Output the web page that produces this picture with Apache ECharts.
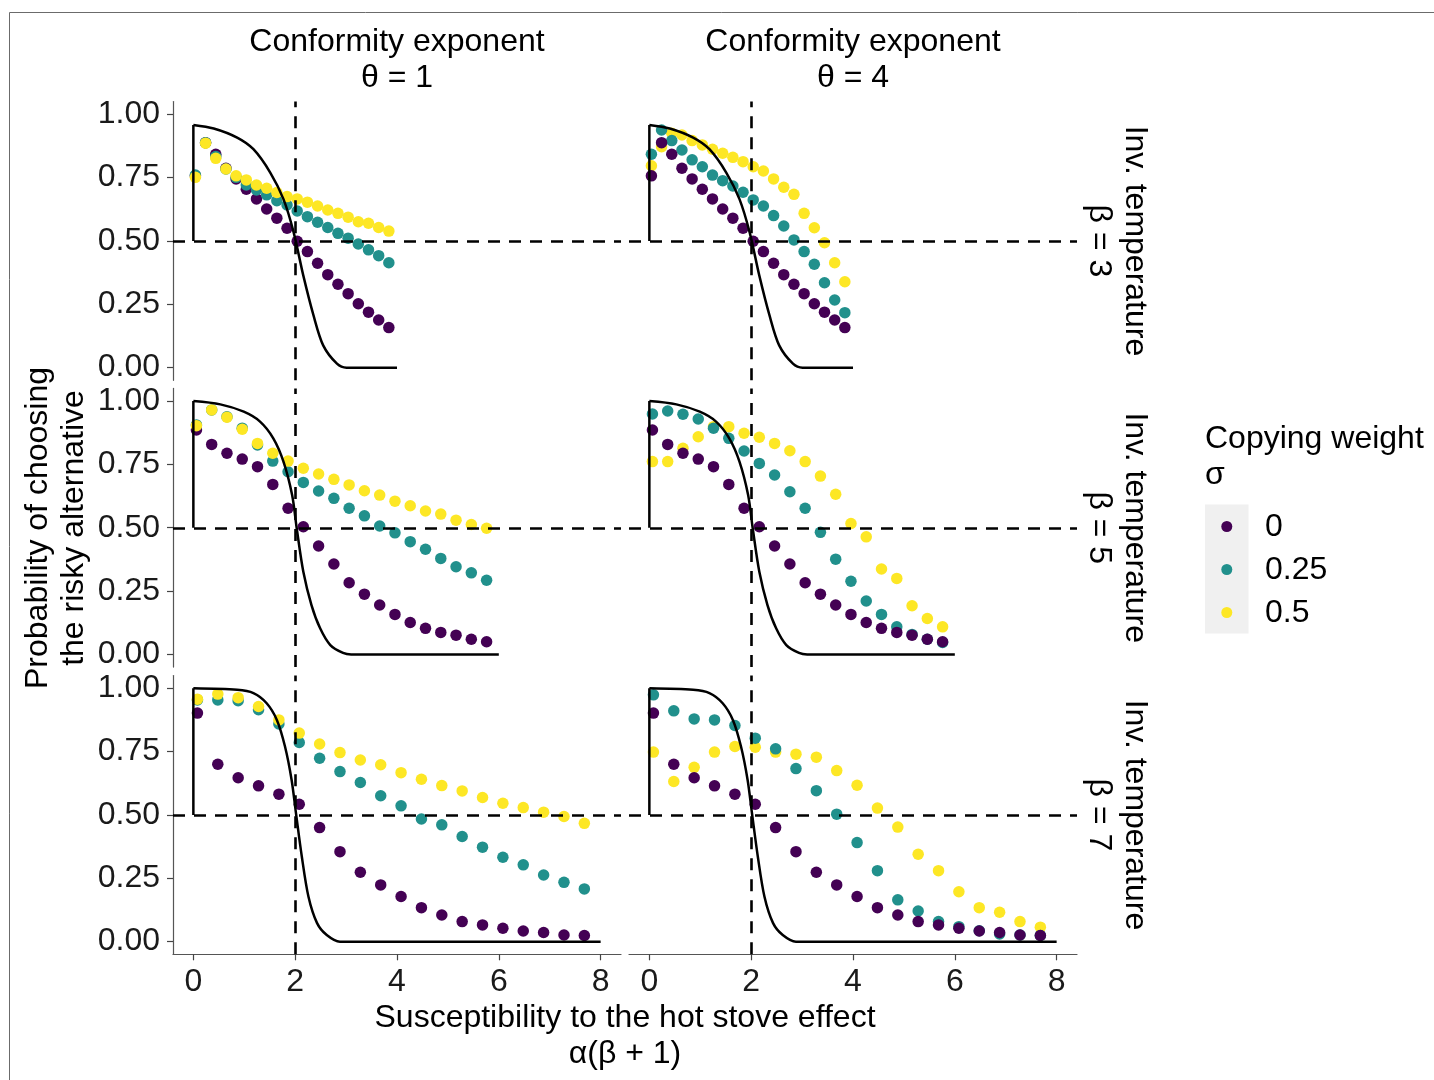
<!DOCTYPE html>
<html><head><meta charset="utf-8">
<script src="https://cdn.jsdelivr.net/npm/echarts@6/dist/echarts.min.js"></script>
<style>html,body{margin:0;padding:0;background:#fff}#c{width:1434px;height:1080px}</style>
</head><body><div id="c"></div>
<script>
// ---------- data ----------
const betas = [3, 5, 7];
const thetas = [1, 4];
const sigmaLabels = ['0', '0.25', '0.5'];
const colors = ['#440154', '#21908C', '#FDE725'];
const xTicks = [0, 2, 4, 6, 8];
const yTicks = [0, 0.25, 0.5, 0.75, 1];
const refY = 0.5;
const refX = 2;

const xs3 = [0.04,0.24,0.44,0.64,0.84,1.04,1.24,1.44,1.64,1.84,2.04,2.24,2.44,2.64,2.84,3.04,3.24,3.44,3.64,3.84];
const xs5 = [0.06,0.36,0.66,0.96,1.26,1.56,1.86,2.16,2.46,2.76,3.06,3.36,3.66,3.96,4.26,4.56,4.86,5.16,5.46,5.76];
const xs7 = [0.08,0.48,0.88,1.28,1.68,2.08,2.48,2.88,3.28,3.68,4.08,4.48,4.88,5.28,5.68,6.08,6.48,6.88,7.28,7.68];

// sigma = 0 (no copying), same for both theta
const p_b3 = [0.757,0.888,0.842,0.787,0.745,0.704,0.666,0.626,0.590,0.550,0.499,0.458,0.412,0.367,0.329,0.292,0.252,0.219,0.188,0.158];
const p_b5 = [0.886,0.829,0.794,0.771,0.741,0.671,0.577,0.504,0.428,0.357,0.283,0.238,0.195,0.158,0.126,0.103,0.087,0.076,0.060,0.050];
const p_b7 = [0.902,0.700,0.647,0.615,0.582,0.542,0.450,0.355,0.274,0.224,0.178,0.134,0.105,0.079,0.066,0.053,0.042,0.036,0.026,0.024];

// sigma = 0.25
const t_b3_th1 = [0.760,0.888,0.833,0.784,0.751,0.721,0.701,0.682,0.659,0.642,0.618,0.596,0.574,0.553,0.530,0.511,0.488,0.465,0.442,0.414];
const t_b3_th4 = [0.842,0.938,0.896,0.859,0.820,0.793,0.760,0.738,0.717,0.692,0.662,0.638,0.600,0.559,0.504,0.458,0.408,0.335,0.267,0.217];
const t_b5_th1 = [0.906,0.965,0.938,0.893,0.827,0.763,0.721,0.679,0.645,0.616,0.577,0.547,0.507,0.480,0.445,0.415,0.379,0.346,0.322,0.293];
const t_b5_th4 = [0.949,0.961,0.948,0.929,0.893,0.853,0.803,0.754,0.708,0.642,0.577,0.482,0.376,0.289,0.211,0.158,0.109,0.079,0.060,0.047];
const t_b7_th1 = [0.954,0.954,0.951,0.915,0.859,0.786,0.724,0.671,0.628,0.576,0.536,0.484,0.461,0.415,0.373,0.333,0.303,0.263,0.234,0.208];
const t_b7_th4 = [0.974,0.911,0.879,0.875,0.853,0.803,0.761,0.683,0.596,0.503,0.391,0.280,0.165,0.121,0.079,0.059,0.043,0.030,0.026,0.024];

// sigma = 0.5
const y_b3_th1 = [0.751,0.886,0.826,0.784,0.757,0.741,0.721,0.708,0.691,0.675,0.666,0.653,0.638,0.622,0.609,0.594,0.576,0.570,0.553,0.539];
const y_b3_th4 = [0.797,0.872,0.925,0.918,0.896,0.879,0.862,0.846,0.830,0.813,0.793,0.776,0.745,0.712,0.684,0.609,0.552,0.493,0.414,0.339];
const y_b5_th1 = [0.903,0.965,0.936,0.889,0.833,0.794,0.763,0.735,0.712,0.691,0.669,0.646,0.629,0.605,0.587,0.566,0.554,0.530,0.513,0.498];
const y_b5_th4 = [0.761,0.761,0.814,0.859,0.899,0.899,0.873,0.857,0.833,0.804,0.761,0.704,0.632,0.517,0.464,0.337,0.300,0.192,0.142,0.109];
const y_b7_th1 = [0.957,0.977,0.963,0.928,0.875,0.823,0.780,0.746,0.717,0.698,0.667,0.641,0.616,0.595,0.569,0.546,0.529,0.511,0.494,0.467];
const y_b7_th4 = [0.748,0.632,0.688,0.748,0.770,0.767,0.748,0.740,0.728,0.675,0.617,0.527,0.452,0.345,0.280,0.197,0.134,0.116,0.079,0.057];

// theoretical (no-social-learning) curve
const curveX_b3 = [0, 0.40, 0.86, 1.18, 1.51, 1.77, 1.97, 2.16, 2.36, 2.55, 2.82, 3.01, 4.0];
const curveY_b3 = [0.958, 0.944, 0.908, 0.862, 0.770, 0.665, 0.534, 0.363, 0.206, 0.088, 0.016, 0.0, 0.0];
const curveX_b5 = [0, 0.53, 0.99, 1.31, 1.57, 1.77, 1.94, 2.03, 2.16, 2.32, 2.49, 2.69, 2.94, 3.1, 6.0];
const curveY_b5 = [1.0, 0.987, 0.958, 0.919, 0.853, 0.761, 0.629, 0.498, 0.326, 0.195, 0.103, 0.037, 0.006, 0.0, 0.0];
const curveX_b7 = [0, 0.86, 1.18, 1.44, 1.64, 1.80, 1.93, 2.02, 2.13, 2.26, 2.43, 2.62, 2.88, 8.0];
const curveY_b7 = [1.0, 0.994, 0.981, 0.941, 0.875, 0.770, 0.638, 0.5, 0.336, 0.178, 0.073, 0.026, 0.0, 0.0];

// ---------- assembly ----------
const xsByRow = [xs3, xs5, xs7];
const purpleByRow = [p_b3, p_b5, p_b7];
const tealByPanel = [[t_b3_th1, t_b3_th4], [t_b5_th1, t_b5_th4], [t_b7_th1, t_b7_th4]];
const yellowByPanel = [[y_b3_th1, y_b3_th4], [y_b5_th1, y_b5_th4], [y_b7_th1, y_b7_th4]];
const curveXByRow = [curveX_b3, curveX_b5, curveX_b7];
const curveYByRow = [curveY_b3, curveY_b5, curveY_b7];

const FONT = 'Liberation Sans, Arial, sans-serif';
const gridLeft = [173, 629];
const gridTop = [101.6, 388.4, 675.6];
const gridW = 448, gridH = 278.7;

const zip = (xs, ys) => xs.map((x, i) => [x, ys[i]]);

const grids = [], xAxes = [], yAxes = [], series = [];
for (let r = 0; r < 3; r++) {
  for (let c = 0; c < 2; c++) {
    const idx = r * 2 + c;
    grids.push({ left: gridLeft[c], top: gridTop[r], width: gridW, height: gridH, containLabel: false });
    const bottomRow = r === 2, leftCol = c === 0;
    xAxes.push({
      type: 'value', gridIndex: idx, min: -0.4, max: 8.4,
      show: true,
      axisLine: { show: bottomRow, onZero: false, lineStyle: { color: '#555', width: 1.2 } },
      axisTick: { show: bottomRow, length: 6, customValues: xTicks, lineStyle: { color: '#444', width: 1.2 } },
      axisLabel: { show: bottomRow, customValues: xTicks, margin: 12, fontSize: 32, fontFamily: FONT, color: '#1a1a1a' },
      splitLine: { show: false }
    });
    yAxes.push({
      type: 'value', gridIndex: idx, min: -0.05, max: 1.05,
      axisLine: { show: leftCol, onZero: false, lineStyle: { color: '#555', width: 1.2 } },
      axisTick: { show: leftCol, length: 6, customValues: yTicks, lineStyle: { color: '#444', width: 1.2 } },
      axisLabel: { show: leftCol, customValues: yTicks, margin: 13, fontSize: 32, fontFamily: FONT, color: '#1a1a1a',
                   formatter: v => Number(v).toFixed(2) },
      splitLine: { show: false }
    });
    const xs = xsByRow[r];
    const sets = [purpleByRow[r], tealByPanel[r][c], yellowByPanel[r][c]];
    for (let s = 0; s < 3; s++) {
      // left column: yellow on top; right column: purple on top
      const z = leftCol ? 2 + s : 4 - s;
      series.push({
        type: 'scatter', name: sigmaLabels[s], xAxisIndex: idx, yAxisIndex: idx,
        data: zip(xs, sets[s]), symbol: 'circle', symbolSize: 11.5, z: z,
        itemStyle: { color: colors[s], opacity: 1 }, silent: true
      });
    }
    const cx = curveXByRow[r], cy = curveYByRow[r];
    // vertical part of the curve at x = 0
    series.push({
      type: 'line', xAxisIndex: idx, yAxisIndex: idx, data: [[cx[0], refY], [cx[0], cy[0]]],
      showSymbol: false, symbol: 'none', z: 6, silent: true,
      lineStyle: { color: '#000', width: 2.5 }
    });
    series.push({
      type: 'line', xAxisIndex: idx, yAxisIndex: idx, data: zip(cx, cy),
      smooth: 0.3, showSymbol: false, symbol: 'none', z: 6, silent: true, sampling: null,
      lineStyle: { color: '#000', width: 2.5 },
      markLine: {
        silent: true, symbol: ['none', 'none'], label: { show: false }, animation: false,
        lineStyle: { color: '#000', width: 2.6, type: [12, 9] },
        data: [{ yAxis: refY }, { xAxis: refX }]
      }
    });
  }
}

const txt = (text, x, y, opts = {}) => Object.assign({
  type: 'text', x: x, y: y, silent: true, z: 100,
  style: Object.assign({ text: text, font: '32px ' + FONT, fill: '#000', align: 'center', verticalAlign: 'middle', lineHeight: 36 }, opts.style || {})
}, opts.el || {});

const graphics = [];
// outer frame (top and left edges visible)
graphics.push({ type: 'line', shape: { x1: 9.5, y1: 12.5, x2: 1434, y2: 12.5 }, style: { stroke: '#6b6b6b', lineWidth: 1 }, silent: true });
graphics.push({ type: 'line', shape: { x1: 9.5, y1: 12.5, x2: 9.5, y2: 1080 }, style: { stroke: '#6b6b6b', lineWidth: 1 }, silent: true });
// column strips
for (let c = 0; c < 2; c++) {
  graphics.push(txt('Conformity exponent\nθ = ' + thetas[c], gridLeft[c] + gridW / 2, 60));
}
// row strips (rotated clockwise)
for (let r = 0; r < 3; r++) {
  graphics.push(txt('Inv. temperature\nβ = ' + betas[r], 1117, gridTop[r] + gridH / 2, { el: { rotation: -Math.PI / 2 } }));
}
// axis titles
graphics.push(txt('Probability of choosing\nthe risky alternative', 56, 528, { el: { rotation: Math.PI / 2 } }));
graphics.push(txt('Susceptibility to the hot stove effect\nα(β + 1)', 625, 1036));
// legend
graphics.push(txt('Copying weight\nσ', 1205, 457, { style: { align: 'left' } }));
graphics.push({ type: 'rect', shape: { x: 1205, y: 504.5, width: 43.5, height: 129 }, style: { fill: '#F0F0F0' }, silent: true });
const keyY = [526.5, 569.5, 612.5];
for (let s = 0; s < 3; s++) {
  graphics.push({ type: 'circle', shape: { cx: 1226.8, cy: keyY[s], r: 5.5 }, style: { fill: colors[s] }, silent: true, z: 101 });
  graphics.push(txt(sigmaLabels[s], 1265, keyY[s] + 1, { style: { align: 'left' } }));
}

const chart = echarts.init(document.getElementById('c'), null, { renderer: 'canvas' });
chart.setOption({
  animation: false,
  backgroundColor: '#fff',
  grid: grids, xAxis: xAxes, yAxis: yAxes, series: series,
  graphic: graphics
});
</script></body></html>
